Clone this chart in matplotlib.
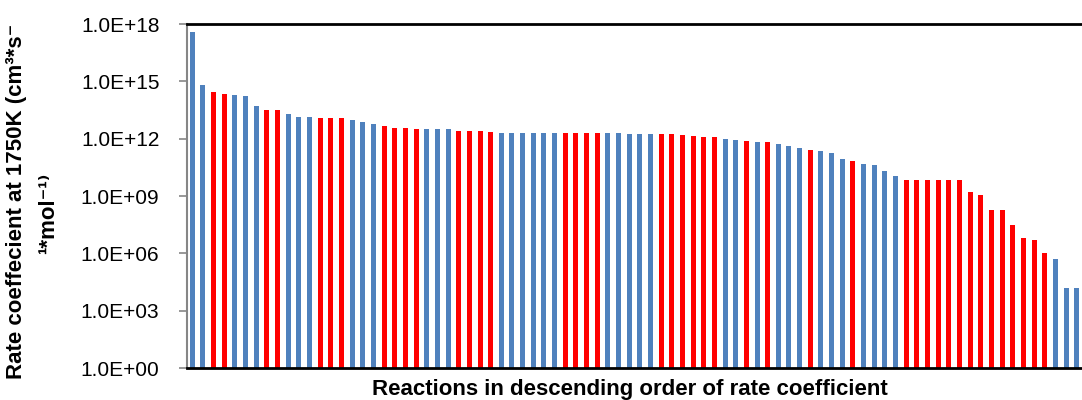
import numpy as np
import matplotlib.pyplot as plt
from matplotlib.ticker import FixedLocator, FuncFormatter

# log10 of rate coefficient (descending order)
log_k = [17.57, 14.81, 14.44, 14.34, 14.29, 14.22, 13.71, 13.50, 13.50, 13.29,
         13.13, 13.13, 13.08, 13.08, 13.08, 12.96, 12.87, 12.77, 12.66, 12.56,
         12.56, 12.51, 12.49, 12.49, 12.49, 12.40, 12.40, 12.40, 12.35, 12.30,
         12.28, 12.28, 12.28, 12.28, 12.28, 12.30, 12.30, 12.30, 12.30, 12.28,
         12.28, 12.23, 12.23, 12.23, 12.245, 12.245, 12.19, 12.14, 12.09, 12.09,
         11.98, 11.95, 11.88, 11.84, 11.83, 11.70, 11.63, 11.49, 11.41, 11.36,
         11.25, 10.92, 10.83, 10.67, 10.62, 10.33, 10.05, 9.84, 9.84, 9.84,
         9.84, 9.84, 9.84, 9.21, 9.05, 8.27, 8.27, 7.48, 6.80, 6.70,
         6.02, 5.69, 4.20, 4.20]
# b = blue, r = red
kind = list("bbrrbbbrrbbbrrrbbbrrrrbbbrrrrbbbbbbrrrrbbbbbrrrrrrbbrbrbbbrbbbrbbbbrrrrrrrrrrrrrrbbb")
yticks = [1e0, 1e3, 1e6, 1e9, 1e12, 1e15, 1e18]

values = [10 ** v for v in log_k]
colors = ['#4F81BD' if c == 'b' else '#FF0000' for c in kind[:len(values)]]
x = np.arange(len(values))

plt.rcParams['font.family'] = ['Liberation Sans', 'DejaVu Sans']

fig = plt.figure(figsize=(10.82, 4.0), dpi=100)
ax = fig.add_axes([187/1082., 0.08, 895/1082., 0.86])
ax.bar(x, values, width=0.47, color=colors, bottom=0)
ax.set_yscale('log')
ax.set_ylim(1, 1e18)
ax.set_xlim(-0.5, len(values) - 0.5)
ax.yaxis.set_major_locator(FixedLocator(yticks))
ax.yaxis.set_minor_locator(FixedLocator([]))
ax.yaxis.set_major_formatter(FuncFormatter(lambda v, p: '1.0E+%02d' % round(np.log10(v))))
ax.set_xticks([])
ax.tick_params(axis='y', direction='out', length=5.8, width=1.2, color='#868686',
               labelsize=15, pad=14)

ax.spines['right'].set_visible(False)
ax.spines['left'].set_color('#868686')
ax.spines['left'].set_linewidth(1.5)
ax.spines['bottom'].set_color('black')
ax.spines['bottom'].set_linewidth(2)
ax.spines['top'].set_color('black')
ax.spines['top'].set_linewidth(2)

fig.text(17/1082., 1 - 201/400., 'Rate coeffecient at 1750K (cm\u00b3*s\u207b',
         rotation=90, ha='center', va='center', fontsize=16, fontweight='bold')
fig.text(49/1082., 1 - 213/400., '\u00b9*mol\u207b\u00b9\u207e',
         rotation=90, ha='center', va='center', fontsize=16, fontweight='bold')
fig.text(630/1082., 1 - 389/400., 'Reactions in descending order of rate coefficient',
         ha='center', va='center', fontsize=16, fontweight='bold')

plt.savefig('out.png', dpi=100)
